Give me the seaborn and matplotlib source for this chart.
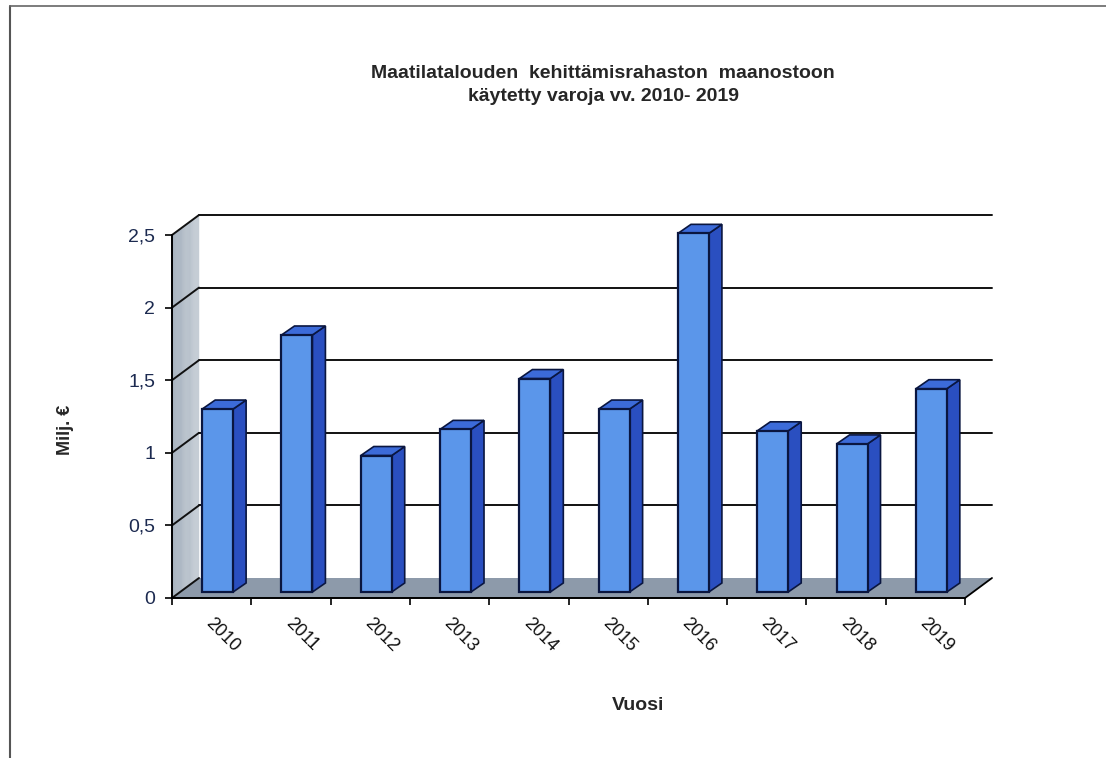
import matplotlib
matplotlib.use("Agg")
import matplotlib.pyplot as plt
import numpy as np
import seaborn as sns
from matplotlib.patches import Polygon
from matplotlib.transforms import ScaledTranslation

years = ["2010", "2011", "2012", "2013", "2014", "2015", "2016", "2017", "2018", "2019"]
values = [1.26, 1.77, 0.94, 1.12, 1.47, 1.26, 2.47, 1.11, 1.02, 1.40]
yticks = [0, 0.5, 1, 1.5, 2, 2.5]
ytick_labels = ["0", "0,5", "1", "1,5", "2", "2,5"]
title = "Maatilatalouden  kehittämisrahaston  maanostoon\nkäytetty varoja vv. 2010- 2019"

sns.set_style("white")
plt.rcParams["font.family"] = ["Liberation Sans", "DejaVu Sans"]

W, H = 1106, 758
fig = plt.figure(figsize=(W / 100, H / 100), dpi=100)
ax = fig.add_axes([172 / W, 160 / H, 793 / W, 363 / H])

front = "#5b96ea"
side = "#2a4fc0"
top = "#3c6bd9"
edge = "#0a1640"

sns.barplot(x=years, y=values, color=front, width=0.39, saturation=1,
            edgecolor=edge, linewidth=1.6, ax=ax, zorder=5)
ax.set_xlim(-0.5, 9.5)
ax.set_ylim(0, 2.5)

# pixel -> data conversions
px_x = 793 / 10.0
px_y = 363 / 2.5
dx, dy = 27 / px_x, 20 / px_y      # wall depth
bx, by = 6 / px_x, 6 / px_y        # bar plane offset
sx, sy = 13 / px_x, 9 / px_y       # bar depth

# left wall, gradient made of thin strips
cmap = matplotlib.colors.LinearSegmentedColormap.from_list("w", ["#a3afbc", "#c6ced6"])
n = 24
for i in range(n):
    a, b = i / n, (i + 1) / n
    ax.add_patch(Polygon([(-0.5 + dx * a, dy * a), (-0.5 + dx * b, dy * b),
                          (-0.5 + dx * b, 2.5 + dy * b), (-0.5 + dx * a, 2.5 + dy * a)],
                         closed=True, facecolor=cmap(a), edgecolor=cmap(a), lw=0.3,
                         zorder=0.5, clip_on=False))

# floor
ax.add_patch(Polygon([(-0.5, 0), (-0.5 + dx, dy), (9.5 + dx, dy), (9.5, 0)], closed=True,
                     facecolor="#8d9aaa", edgecolor="none", zorder=1, clip_on=False))
ax.plot([9.5, 9.5 + dx], [0, dy], color="black", lw=1.3, zorder=2, clip_on=False)

# back wall gridlines and side-wall diagonals
for t in yticks:
    if t > 0:
        ax.plot([-0.5 + dx, 9.5 + dx], [t + dy, t + dy], color="#111111", lw=1.4, zorder=1.2, clip_on=False)
    ax.plot([-0.5, -0.5 + dx], [t, t + dy], color="#111111", lw=1.4, zorder=1.2, clip_on=False)

# 3D faces for bars
for p, v in zip(ax.patches[:], values):
    x0 = p.get_x() + bx
    x1 = x0 + p.get_width()
    p.set_x(x0)
    p.set_y(by)
    p.set_clip_on(False)
    yt = by + v
    ax.add_patch(Polygon([(x1, by), (x1 + sx, by + sy), (x1 + sx, yt + sy), (x1, yt)], closed=True,
                         facecolor=side, edgecolor=edge, lw=1.2, zorder=4, clip_on=False))
    ax.add_patch(Polygon([(x0, yt), (x0 + sx, yt + sy), (x1 + sx, yt + sy), (x1, yt)], closed=True,
                         facecolor=top, edgecolor=edge, lw=1.2, zorder=4, clip_on=False))

# axes styling
for s in ["top", "right"]:
    ax.spines[s].set_visible(False)
for s in ["left", "bottom"]:
    ax.spines[s].set_color("black")
    ax.spines[s].set_linewidth(1.4)
    ax.spines[s].set_zorder(6)

ax.set_yticks(yticks)
ax.set_yticklabels(ytick_labels)
ax.tick_params(axis="y", direction="out", length=5, width=1.2, color="black",
               labelsize=14, labelcolor="#1c2a50", pad=7, left=True)
ax.set_xticks(range(len(years)))
ax.set_xticklabels(years)
ax.set_xticks(np.arange(-0.5, 10, 1), minor=True)
ax.tick_params(axis="x", which="major", length=0, pad=12, labelsize=13, labelcolor="#111111")
ax.tick_params(axis="x", which="minor", direction="out", length=5, width=1.2, color="black", bottom=True)
for lab in ax.get_xticklabels():
    lab.set_rotation(-45)
    lab.set_ha("left")
    lab.set_va("top")
    lab.set_transform(lab.get_transform() + ScaledTranslation(-0.09, 0, fig.dpi_scale_trans))
ax.set_xlabel("")
ax.set_ylabel("")

fig.text(603 / W, 1 - 85 / H, title, ha="center", va="center", fontsize=14,
         fontweight="bold", linespacing=1.5)
fig.text(638 / W, 1 - 705 / H, "Vuosi", ha="center", va="center", fontsize=14, fontweight="bold")
fig.text(65 / W, 1 - 430 / H, "Milj. €", ha="center", va="center", fontsize=13,
         fontweight="bold", rotation=90)

# outer frame
fig.add_artist(plt.Line2D([10 / W, 10 / W], [0, 1 - 6 / H], color="#555555", lw=1.5))
fig.add_artist(plt.Line2D([10 / W, 1], [1 - 6 / H, 1 - 6 / H], color="#666666", lw=1.2))

fig.savefig("out.png", dpi=100)
